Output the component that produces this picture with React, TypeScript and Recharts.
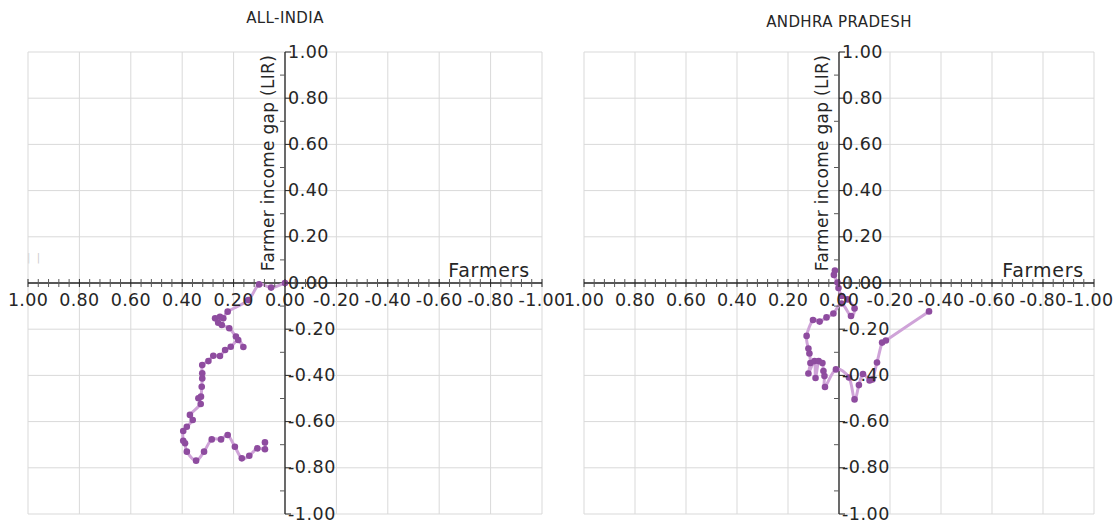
import React from 'react';
import {
  ComposedChart, Line, XAxis, YAxis, CartesianGrid, ReferenceLine,
} from 'recharts';

// Trajectories (x = farmers, y = farmer income gap)
const allIndiaX = [
  0.0, 0.054, 0.101, 0.143, 0.223, 0.24, 0.272, 0.253, 0.26, 0.246, 0.217, 0.191, 0.162, 0.182,
  0.211, 0.233, 0.253, 0.279, 0.298, 0.322, 0.322, 0.322, 0.324, 0.327, 0.337, 0.328, 0.37,
  0.359, 0.382, 0.396, 0.396, 0.389, 0.382, 0.346, 0.315, 0.285, 0.249, 0.223, 0.195, 0.168,
  0.139, 0.108, 0.078, 0.078,
];
const allIndiaY = [
  0.0, -0.02, -0.006, -0.074, -0.124, -0.153, -0.153, -0.146, -0.172, -0.182, -0.196, -0.232,
  -0.277, -0.247, -0.276, -0.29, -0.316, -0.315, -0.338, -0.355, -0.391, -0.413, -0.449, -0.492,
  -0.499, -0.524, -0.571, -0.593, -0.622, -0.641, -0.683, -0.694, -0.73, -0.769, -0.73, -0.677,
  -0.677, -0.658, -0.709, -0.759, -0.748, -0.716, -0.72, -0.69,
];
const andhraX = [
  0.016, 0.02, 0.006, 0.002, -0.01, -0.033, -0.061, -0.047, -0.01, 0.022, 0.049, 0.076, 0.102,
  0.127, 0.12, 0.116, 0.112, 0.12, 0.096, 0.092, 0.08, 0.065, 0.061, 0.057, 0.055, 0.012, -0.039,
  -0.061, -0.078, -0.094, -0.12, -0.131, -0.149, -0.169, -0.184, -0.353,
];
const andhraY = [
  0.054, 0.035, 0.002, -0.022, -0.056, -0.071, -0.11, -0.143, -0.089, -0.132, -0.149, -0.167,
  -0.16, -0.229, -0.284, -0.305, -0.346, -0.392, -0.338, -0.411, -0.338, -0.346, -0.381, -0.403,
  -0.45, -0.374, -0.409, -0.504, -0.442, -0.394, -0.422, -0.418, -0.344, -0.258, -0.249, -0.123,
];

const majorTicks = [-1, -0.8, -0.6, -0.4, -0.2, 0, 0.2, 0.4, 0.6, 0.8, 1];
const minorXTicks = [
  -0.96, -0.92, -0.88, -0.84, -0.76, -0.72, -0.68, -0.64, -0.56, -0.52, -0.48, -0.44,
  -0.36, -0.32, -0.28, -0.24, -0.16, -0.12, -0.08, -0.04, 0.04, 0.08, 0.12, 0.16,
  0.24, 0.28, 0.32, 0.36, 0.44, 0.48, 0.52, 0.56, 0.64, 0.68, 0.72, 0.76, 0.84, 0.88, 0.92, 0.96,
];
const minorYTicks = [-0.9, -0.7, -0.5, -0.3, -0.1, 0.1, 0.3, 0.5, 0.7, 0.9];

const FONT = '"DejaVu Sans", sans-serif';
const TEXT = '#262626';
const AXIS = '#262626';
const LINE = '#cfa3d8';
const DOT = '#8e4c9f';

const toPoints = (xs: number[], ys: number[]) => xs.map((x, i) => ({ x, y: ys[i] }));

// Excel-like smoothed line (Catmull-Rom through every point)
const smoothCurve = (context: any) => {
  let pts: [number, number][] = [];
  return {
    areaStart() {},
    areaEnd() {},
    lineStart() { pts = []; },
    lineEnd() {
      if (!pts.length) return;
      context.moveTo(pts[0][0], pts[0][1]);
      for (let i = 0; i < pts.length - 1; i++) {
        const p0 = pts[i - 1] || pts[i];
        const p1 = pts[i];
        const p2 = pts[i + 1];
        const p3 = pts[i + 2] || p2;
        context.bezierCurveTo(
          p1[0] + (p2[0] - p0[0]) / 6, p1[1] + (p2[1] - p0[1]) / 6,
          p2[0] - (p3[0] - p1[0]) / 6, p2[1] - (p3[1] - p1[1]) / 6,
          p2[0], p2[1],
        );
      }
    },
    point(x: number, y: number) { pts.push([x, y]); },
  };
};

type PanelProps = {
  title: string;
  titleTop: number;
  data: { x: number; y: number }[];
  width: number;
  left: number;
  right: number;
  labelMaxX?: number;
};

const HEIGHT = 521;
const TOP = 52;
const BOTTOM = 7;

const Panel: React.FC<PanelProps> = ({ title, titleTop, data, width, left, right, labelMaxX = 9999 }) => {
  const plotW = width - left - right;
  const plotH = HEIGHT - TOP - BOTTOM;
  const zeroX = left + plotW / 2;
  const zeroY = TOP + plotH / 2;

  const xTick = (p: any) => (
    <g>
      <line x1={p.x} x2={p.x} y1={zeroY - 4} y2={zeroY + 4} stroke={AXIS} />
      <text x={Math.min(p.x, labelMaxX)} y={zeroY + 23} textAnchor="middle" fontSize={17.5} fill={TEXT}
        fontFamily={FONT} letterSpacing={0.3}>
        {Number(p.payload.value).toFixed(2)}
      </text>
    </g>
  );
  const yTick = (p: any) => (
    <g>
      <line x1={zeroX} x2={zeroX + 6} y1={p.y} y2={p.y} stroke={AXIS} />
      <text x={zeroX + 3} y={p.y + 5.5} textAnchor="start" fontSize={17.5} fill={TEXT} fontFamily={FONT}
        letterSpacing={0.5}>
        {Number(p.payload.value).toFixed(2)}
      </text>
    </g>
  );
  const xMinor = (p: any) => (
    <line x1={p.x} x2={p.x} y1={zeroY - 4} y2={zeroY + 4} stroke="#595959" />
  );
  const yMinor = (p: any) => (
    <line x1={zeroX - 5} x2={zeroX} y1={p.y} y2={p.y} stroke="#595959" />
  );

  return (
    <div style={{ position: 'relative', width, height: HEIGHT, fontFamily: FONT, color: TEXT }}>
      <div style={{
        position: 'absolute', top: titleTop, left: 0, width: zeroX * 2, textAlign: 'center',
        fontSize: 15, letterSpacing: 0.4, lineHeight: '18px',
      }}>
        {title}
      </div>
      <ComposedChart width={width} height={HEIGHT} data={data}
        margin={{ top: TOP, right, bottom: BOTTOM - 2, left: left - 2 }}>
        <CartesianGrid stroke="#d9d9d9" />
        <XAxis type="number" dataKey="x" domain={[-1, 1]} reversed ticks={majorTicks} interval={0}
          height={1} axisLine={false} tickLine={false} tick={xTick} />
        <XAxis xAxisId="minor" type="number" dataKey="x" domain={[-1, 1]} reversed ticks={minorXTicks}
          interval={0} height={1} axisLine={false} tickLine={false} tick={xMinor} />
        <YAxis type="number" dataKey="y" domain={[-1, 1]} ticks={majorTicks} interval={0}
          width={1} axisLine={false} tickLine={false} tick={yTick} />
        <YAxis yAxisId="minor" type="number" dataKey="y" domain={[-1, 1]} ticks={minorYTicks}
          interval={0} width={1} axisLine={false} tickLine={false} tick={yMinor} />
        <ReferenceLine y={0} stroke={AXIS} strokeWidth={1.3} />
        <ReferenceLine x={0} stroke={AXIS} strokeWidth={1.3} />
        <Line
          dataKey="y"
          type={smoothCurve as any}
          isAnimationActive={false}
          stroke={LINE}
          strokeWidth={3}
          activeDot={false}
          dot={(p: any) => <circle key={p.index} cx={p.cx} cy={p.cy} r={3.3} fill={DOT} />}
        />
      </ComposedChart>
      <div style={{
        position: 'absolute', left: zeroX - 17 - 120, top: 163 - 11, width: 240, height: 22,
        transform: 'rotate(-90deg)', textAlign: 'center', fontSize: 17, letterSpacing: 0.3,
        lineHeight: '22px', whiteSpace: 'nowrap',
      }}>
        Farmer income gap (LIR)
      </div>
      <div style={{
        position: 'absolute', right: width - (zeroX + 245), top: 258, fontSize: 19,
        letterSpacing: 0.8, lineHeight: '24px', whiteSpace: 'nowrap',
      }}>
        Farmers
      </div>
    </div>
  );
};

const App: React.FC = () => (
  <div style={{ position: 'absolute', left: 0, top: 0, width: 1115, height: 521, background: '#fff', display: 'flex' }}>
    <style>{'svg.recharts-surface { overflow: visible !important; } .recharts-wrapper { overflow: visible !important; }'}</style>
    <div style={{ position: 'absolute', left: 27, top: 252, color: '#cccccc', fontSize: 10, fontFamily: FONT }}>
      |&nbsp;&nbsp;|
    </div>
    <Panel title="ALL-INDIA" titleTop={9} data={toPoints(allIndiaX, allIndiaY)} width={557} left={28} right={15} />
    <Panel title="ANDHRA PRADESH" titleTop={13} data={toPoints(andhraX, andhraY)} width={558} left={27} right={21}
      labelMaxX={533} />
  </div>
);

export default App;
